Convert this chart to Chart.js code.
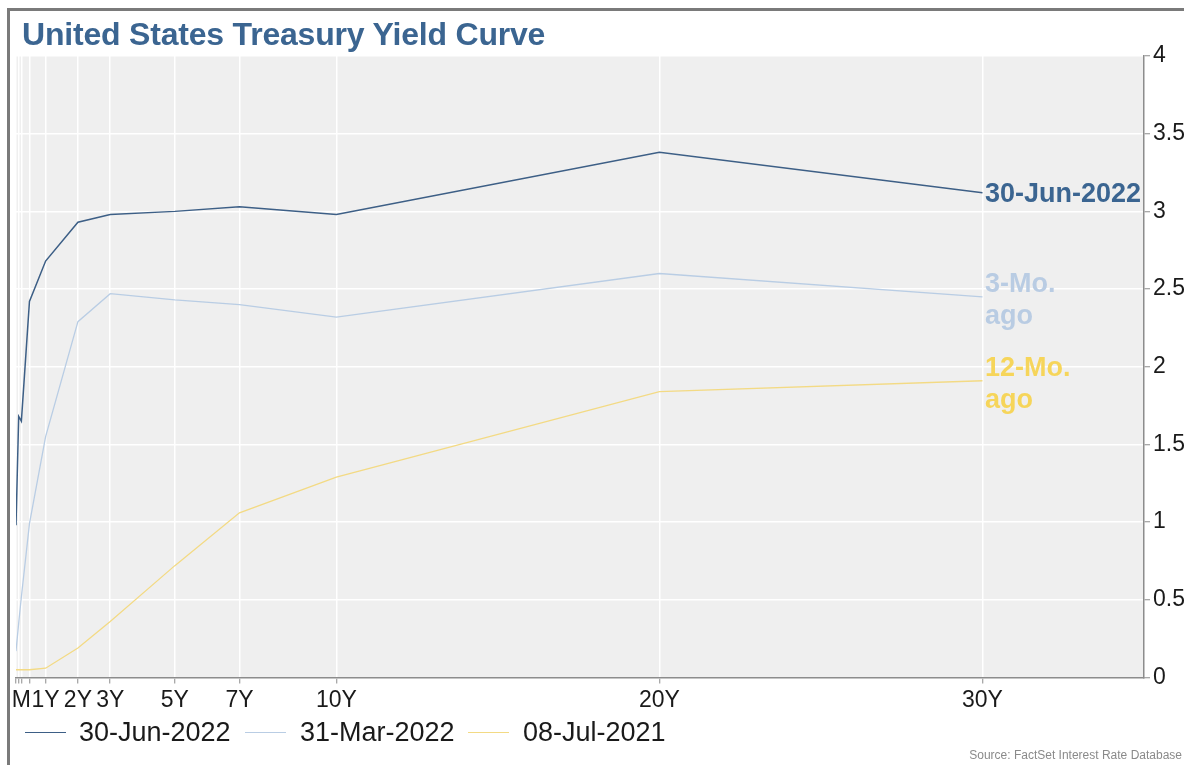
<!DOCTYPE html>
<html>
<head>
<meta charset="utf-8">
<script src="https://cdn.jsdelivr.net/npm/chart.js@4/dist/chart.umd.min.js"></script>
<style>
  html, body { margin: 0; padding: 0; background: #fff; }
  #wrap { position: relative; width: 1184px; height: 765px; overflow: hidden; font-family: "Liberation Sans", Arial, sans-serif; }
  #c { position: absolute; left: 0; top: 0; }
  .abs { position: absolute; white-space: nowrap; }
  #frame { position: absolute; left: 7px; top: 8px; width: 1300px; height: 900px; border-top: 3px solid #7a7a7a; border-left: 3px solid #7a7a7a; }
  #title { left: 22px; top: 18px; font-size: 32px; line-height: 32px; font-weight: bold; color: #3b6591; letter-spacing: -0.2px; }
  .lbl { font-size: 27px; font-weight: bold; line-height: 32px; left: 985px; }
  .legline { position: absolute; height: 1.5px; width: 41px; top: 731.5px; }
  .legtxt { position: absolute; font-size: 27px; line-height: 27px; top: 719px; color: #1a1a1a; }
  #src { right: 2px; top: 749px; font-size: 12px; line-height: 12px; color: #8a8a8a; }
</style>
</head>
<body>
<div id="wrap">
  <canvas id="c" width="1184" height="765"></canvas>
  <div id="frame"></div>
  <div id="title" class="abs">United States Treasury Yield Curve</div>
  <div class="abs lbl" style="top:177px; color:#3b6591;">30-Jun-2022</div>
  <div class="abs lbl" style="top:267px; color:#b9cce3;">3-Mo.<br>ago</div>
  <div class="abs lbl" style="top:351px; color:#f6d55a;">12-Mo.<br>ago</div>
  <div class="legline" style="left:25px; background:#3d5f86;"></div>
  <div class="legtxt" style="left:79px;">30-Jun-2022</div>
  <div class="legline" style="left:245px; background:#b9cde4;"></div>
  <div class="legtxt" style="left:300px;">31-Mar-2022</div>
  <div class="legline" style="left:468px; background:#f3da84;"></div>
  <div class="legtxt" style="left:523px;">08-Jul-2021</div>
  <div id="src" class="abs">Source: FactSet Interest Rate Database</div>
</div>
<script>
// Maturities in years: 1M, 2M, 3M, 6M, 1Y, 2Y, 3Y, 5Y, 7Y, 10Y, 20Y, 30Y
const maturities = [1/12, 2/12, 0.25, 0.5, 1, 2, 3, 5, 7, 10, 20, 30];
const seriesNames = ["30-Jun-2022", "31-Mar-2022", "08-Jul-2021"];
const yieldsJun2022 = [0.98, 1.68, 1.65, 2.42, 2.68, 2.93, 2.98, 3.00, 3.03, 2.98, 3.38, 3.12];
const yieldsMar2022 = [0.17, 0.35, 0.52, 0.99, 1.55, 2.29, 2.47, 2.43, 2.40, 2.32, 2.60, 2.45];
const yieldsJul2021 = [0.05, 0.05, 0.05, 0.05, 0.06, 0.19, 0.36, 0.72, 1.06, 1.29, 1.84, 1.91];
const xTickValues = [1/12, 2/12, 0.25, 0.5, 1, 2, 3, 5, 7, 10, 20, 30];
const xTickLabels = ["", "", "M", "", "1Y", "2Y", "3Y", "5Y", "7Y", "10Y", "20Y", "30Y"];
const yTickLabels = ["0", "0.5", "1", "1.5", "2", "2.5", "3", "3.5", "4"];

const toPoints = arr => arr.map((v, i) => ({ x: maturities[i], y: v }));

const plotBg = {
  id: 'plotBg',
  beforeDraw(chart) {
    const { ctx, chartArea: a } = chart;
    ctx.save();
    ctx.fillStyle = '#efefef';
    ctx.fillRect(a.left, a.top, a.right - a.left, a.bottom - a.top);
    ctx.restore();
  }
};

new Chart(document.getElementById('c'), {
  type: 'line',
  data: {
    datasets: [
      { label: seriesNames[0], data: toPoints(yieldsJun2022), borderColor: '#3d5f86', borderWidth: 1.5, pointRadius: 0, tension: 0, fill: false },
      { label: seriesNames[1], data: toPoints(yieldsMar2022), borderColor: '#b9cde4', borderWidth: 1.3, pointRadius: 0, tension: 0, fill: false },
      { label: seriesNames[2], data: toPoints(yieldsJul2021), borderColor: '#f3da84', borderWidth: 1.3, pointRadius: 0, tension: 0, fill: false }
    ]
  },
  options: {
    responsive: false,
    animation: false,
    layout: { padding: { left: 16, top: 56, right: 0, bottom: 47.5 } },
    plugins: { legend: { display: false }, title: { display: false }, tooltip: { enabled: false } },
    scales: {
      x: {
        type: 'linear',
        position: 'bottom',
        min: 1/12,
        max: 35,
        afterBuildTicks: s => { s.ticks = xTickValues.map(v => ({ value: v })); },
        afterFit: s => { s.height = 40; },
        ticks: {
          autoSkip: false,
          maxRotation: 0,
          minRotation: 0,
          padding: 3,
          color: '#1a1a1a',
          font: { family: '"Liberation Sans", Arial, sans-serif', size: 23 },
          callback: (v, i) => xTickLabels[i]
        },
        grid: { color: '#ffffff', lineWidth: 1.5, tickColor: '#8c8c8c', tickLength: 6, tickWidth: 1 },
        border: { color: '#8c8c8c', width: 1.5 }
      },
      y: {
        position: 'right',
        min: 0,
        max: 4,
        afterBuildTicks: s => { s.ticks = yTickLabels.map(t => ({ value: parseFloat(t) })); },
        afterFit: s => { s.width = 40; },
        ticks: {
          padding: 3,
          color: '#1a1a1a',
          font: { family: '"Liberation Sans", Arial, sans-serif', size: 23 },
          callback: (v, i) => yTickLabels[i]
        },
        grid: { color: '#ffffff', lineWidth: 1.5, tickColor: '#8c8c8c', tickLength: 6, tickWidth: 1 },
        border: { color: '#8c8c8c', width: 1.5 }
      }
    }
  },
  plugins: [plotBg]
});
</script>
</body>
</html>
